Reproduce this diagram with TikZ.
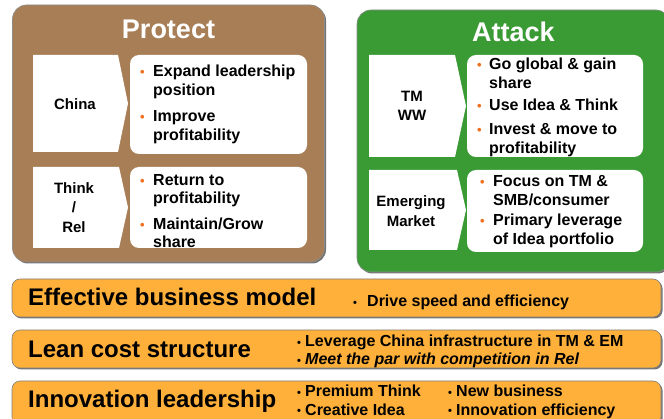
\documentclass[tikz,border=0pt]{standalone}
\usepackage{fontspec}
\setmainfont{Liberation Sans}
\usetikzlibrary{shadows, positioning}
\definecolor{protect}{RGB}{168, 126, 86}
\definecolor{attack}{RGB}{58, 154, 52}
\definecolor{lever}{RGB}{254, 176, 58}
\definecolor{dotc}{RGB}{240, 112, 32}
% bullet of a given width, colour and size
\newcommand{\bul}[3]{\makebox[#1][l]{\color{#2}\fontsize{#3}{#3}\selectfont\raisebox{0.5pt}{\textbullet}}}

\begin{document}
\begin{tikzpicture}[x=1pt, y=-1pt,
    panel/.style={rectangle, rounded corners=14pt, draw=black!45, line width=0.6pt,
                  drop shadow={shadow xshift=1.5pt, shadow yshift=-1.5pt, fill=black!55, opacity=1}},
    title/.style={anchor=base, text=white, font=\fontsize{27}{27}\selectfont\bfseries},
    arrowbox/.style={fill=white},
    region/.style={inner sep=0pt, align=center, font=\fontsize{15}{19.5}\selectfont\bfseries},
    goals/.style={rectangle, rounded corners=9pt, fill=white, inner sep=0pt},
    items/.style={anchor=base west, inner sep=0pt, font=\fontsize{16}{19}\selectfont\bfseries},
    lever/.style={rectangle, rounded corners=8pt, fill=lever, draw=black!50, line width=0.6pt,
                  minimum width=649pt, inner sep=0pt,
                  drop shadow={shadow xshift=1.5pt, shadow yshift=-1.5pt, fill=black!55, opacity=1}},
    head/.style={anchor=base west, inner sep=0pt, font=\fontsize{24}{24}\selectfont\bfseries}]

    \useasboundingbox (0,0) rectangle (664,419);
    \clip (0,0) rectangle (664,419);

    % Panels
    \node[panel, fill=protect, minimum width=312pt, minimum height=257pt] (protect) at (168.5,133.5) {};
    \node[panel, fill=attack, minimum width=313pt, minimum height=262pt] (attack) at (513.5,141) {};
    \node[title] (ptitle) at (168.5,39) {Protect};
    \node[title] (atitle) at (513.5,42) {Attack};

    % Protect
    \fill[arrowbox] (33,55) -- (118,55) -- (128,103.5) -- (118,152) -- (33,152) -- cycle;
    \node[region] (china) at (75,104) {China};
    \node[goals, minimum width=177pt, minimum height=99pt] (chinagoals) at (218.5,104.5) {};
    \node[items] (chinalist) at (140,77) {\begin{tabular}[t]{@{}l@{}l@{}}
        \bul{13pt}{dotc}{13} & Expand leadership\\ & position\\[7pt]
        \bul{13pt}{dotc}{13} & Improve\\ & profitability\end{tabular}};

    \fill[arrowbox] (33,167) -- (119,167) -- (128,207.5) -- (119,248) -- (33,248) -- cycle;
    \node[region] (rel) at (74,207.5) {Think\\/\\Rel};
    \node[goals, minimum width=177pt, minimum height=81pt] (relgoals) at (218.5,207.5) {};
    \node[items, font=\fontsize{16}{17.5}\selectfont\bfseries] (rellist) at (140,186) {\begin{tabular}[t]{@{}l@{}l@{}}
        \bul{13pt}{dotc}{13} & Return to\\ & profitability\\[9pt]
        \bul{13pt}{dotc}{13} & Maintain/Grow\\ & share\end{tabular}};

    % Attack
    \fill[arrowbox] (369,55) -- (455,55) -- (466,106) -- (455,157) -- (369,157) -- cycle;
    \node[region] (tmww) at (412,106) {TM\\WW};
    \node[goals, minimum width=176pt, minimum height=102pt] (tmgoals) at (555,106) {};
    \node[items] (tmlist) at (477,70) {\begin{tabular}[t]{@{}l@{}l@{}}
        \bul{12pt}{dotc}{13} & Go global \& gain\\ & share\\[3pt]
        \bul{12pt}{dotc}{13} & Use Idea \& Think\\[5pt]
        \bul{12pt}{dotc}{13} & Invest \& move to\\ & profitability\end{tabular}};

    \fill[arrowbox] (369,170) -- (457,170) -- (466,210) -- (457,250) -- (369,250) -- cycle;
    \node[region] (em) at (411,211) {Emerging\\Market};
    \node[goals, minimum width=176pt, minimum height=82pt] (emgoals) at (555,211) {};
    \node[items, font=\fontsize{16}{18.5}\selectfont\bfseries] (emlist) at (480,187) {\begin{tabular}[t]{@{}l@{}l@{}}
        \bul{13pt}{dotc}{13} & Focus on TM \&\\ & SMB/consumer\\[2pt]
        \bul{13pt}{dotc}{13} & Primary leverage\\ & of Idea portfolio\end{tabular}};

    % Levers
    \node[lever, minimum height=38pt] (model) at (336.5,298) {};
    \node[lever, minimum height=38pt] (cost) at (336.5,349) {};
    \node[lever, minimum height=44pt] (innov) at (336.5,403) {};

    \node[head] (modelhead) at (28,306) {Effective business model};
    \node[items] (modellist) at (353,307) {\bul{14pt}{black}{11}Drive speed and efficiency};

    \node[head] (costhead) at (28,358) {Lean cost structure};
    \node[items, font=\fontsize{16}{18}\selectfont\bfseries] (costlist) at (297,347) {\begin{tabular}[t]{@{}l@{}l@{}}
        \bul{8pt}{black}{11} & Leverage China infrastructure in TM \& EM\\
        \bul{8pt}{black}{11} & \itshape Meet the par with competition in Rel\end{tabular}};

    \node[head] (innovhead) at (28,407) {Innovation leadership};
    \node[items, font=\fontsize{16}{18}\selectfont\bfseries] (innovlist) at (297,397) {\begin{tabular}[t]{@{}l@{}l@{}}
        \bul{8pt}{black}{11} & Premium Think\\
        \bul{8pt}{black}{11} & Creative Idea\end{tabular}};
    \node[items, font=\fontsize{16}{18}\selectfont\bfseries] (innovmore) at (448,397) {\begin{tabular}[t]{@{}l@{}l@{}}
        \bul{8pt}{black}{11} & New business\\
        \bul{8pt}{black}{11} & Innovation efficiency\end{tabular}};
\end{tikzpicture}
\end{document}
